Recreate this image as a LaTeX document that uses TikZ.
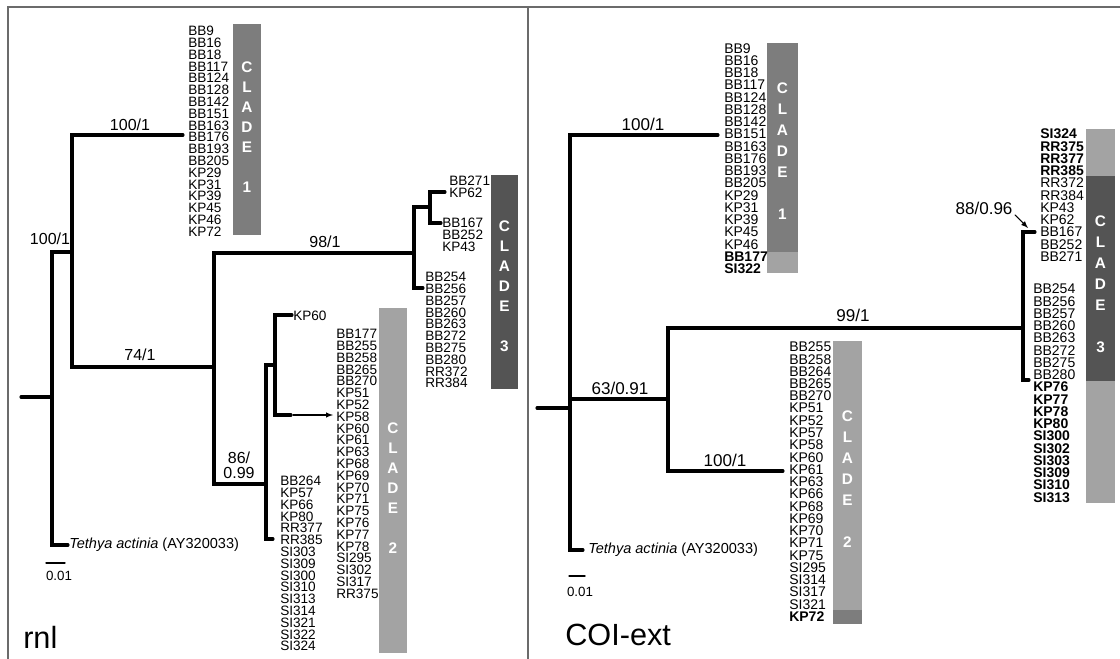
\documentclass[tikz,border=0pt]{standalone}
\usepackage{fontspec}
\setmainfont{Liberation Sans}
\usepackage{tkz-euclide}
\usetikzlibrary{arrows,calc}
\definecolor{FrameClr}{rgb}{0.42,0.42,0.42}
\definecolor{CladeOneClr}{rgb}{0.49,0.49,0.49}
\definecolor{CladeTwoClr}{rgb}{0.64,0.64,0.64}
\definecolor{CladeThreeClr}{rgb}{0.33,0.33,0.33}

\tikzset{
  taxon/.style={anchor=west,inner sep=0pt,font=\fontsize{10.2}{10}\selectfont},
  taxonR/.style={anchor=west,inner sep=0pt,font=\fontsize{10.5}{10}\selectfont},
  support/.style={inner sep=0pt,align=center,font=\fontsize{12}{11.5}\selectfont},
  supportR/.style={inner sep=0pt,font=\fontsize{12.8}{13}\selectfont},
  cladebar/.style={inner sep=0pt,text=white,align=center,font=\fontsize{11.5}{15}\selectfont\bfseries},
  cladebarR/.style={inner sep=0pt,text=white,align=center,font=\fontsize{11.5}{15.75}\selectfont\bfseries},
  outgroup/.style={anchor=west,inner sep=0pt,font=\fontsize{10.9}{11}\selectfont},
  scalelbl/.style={inner sep=0pt,font=\fontsize{10}{10}\selectfont},
  genename/.style={anchor=west,inner sep=0pt,font=\fontsize{23}{23}\selectfont}
}

\begin{document}
\begin{tikzpicture}[x=0.75pt,y=-0.75pt]
\useasboundingbox (0,0) rectangle (1120,659);
\tkzSetUpLine[line width=2.3pt,color=black]

% frame
\tkzDefPoints{8/659/F1,8/7/F2,1120/7/F3,528/7/M1,528/659/M2}
\tkzDrawPolySeg[line width=1.1pt,color=FrameClr](F1,F2,F3)
\tkzDrawSegment[line width=1.1pt,color=FrameClr](M1,M2)

% clade bars
\fill[CladeOneClr] (233,24) rectangle (261,235);
\fill[CladeThreeClr] (491,175) rectangle (518,389);
\fill[CladeTwoClr] (379,308) rectangle (407,653);

\fill[CladeOneClr] (767,43) rectangle (798,252);
\fill[CladeTwoClr] (767,252) rectangle (798,273);
\fill[CladeTwoClr] (833,341) rectangle (862,610);
\fill[CladeOneClr] (833,610) rectangle (862,624);
\fill[CladeTwoClr] (1086,129) rectangle (1115,176);
\fill[CladeThreeClr] (1086,176) rectangle (1115,381);
\fill[CladeTwoClr] (1086,381) rectangle (1115,503);

\node[cladebar] (cOneL) at (247,127) {C\\L\\A\\D\\E\\[15pt]1};
\node[cladebar] (cThreeL) at (504.5,286.5) {C\\L\\A\\D\\E\\[15pt]3};
\node[cladebar] (cTwoL) at (393,488.5) {C\\L\\A\\D\\E\\[15pt]2};
\node[cladebarR] (cOneR) at (782.5,151.5) {C\\L\\A\\D\\E\\[15.75pt]1};
\node[cladebarR] (cTwoR) at (847.5,479) {C\\L\\A\\D\\E\\[15.75pt]2};
\node[cladebarR] (cThreeR) at (1100.5,284) {C\\L\\A\\D\\E\\[15.75pt]3};

% rnl tree
\tkzDefPoints{21/397/L0,52/397/L1,52/252/La,72/252/La1,52/545/Lb,68/545/Lb1}
\tkzDefPoints{72/135/Lc,183/135/Lc1,72/367/Ld,214/367/Ld1}
\tkzDefPoints{214/253/Le,414/253/Le1,214/484/Lf,266/484/Lf1}
\tkzDefPoints{414/207/Lg,430/207/Lg1,414/288/Lh,423/288/Lh1}
\tkzDefPoints{430/192/Li,445/192/Li1,430/223/Lj,441/223/Lj1}
\tkzDefPoints{266/365/Lk,275/365/Lk1,266/539/Ll,273/539/Ll1}
\tkzDefPoints{275/315/Lm,292/315/Lm1,275/415/Ln,291/415/Ln1}
\tkzDefPoints{293/415/An0,333/415/An1,46/563/Ls0,65/563/Ls1}

\tkzDrawSegments(L0,L1)
\tkzDrawPolySeg(La1,La,Lb,Lb1)
\tkzDrawPolySeg(Lc1,Lc,Ld,Ld1)
\tkzDrawPolySeg(Le1,Le,Lf,Lf1)
\tkzDrawPolySeg(Lg1,Lg,Lh,Lh1)
\tkzDrawPolySeg(Li1,Li,Lj,Lj1)
\tkzDrawPolySeg(Lk1,Lk,Ll,Ll1)
\tkzDrawPolySeg(Lm1,Lm,Ln,Ln1)
\tkzDrawSegments[line width=0.8pt,-latex](An0,An1)
\tkzDrawSegments[line width=1pt](Ls0,Ls1)

\node[support] (bsLa) at (50,239) {100/1};
\node[support] (bsLc) at (130,125) {100/1};
\node[support] (bsLd) at (140,355) {74/1};
\node[support] (bsLe) at (325,242) {98/1};
\node[support] (bsLf) at (239,465) {86/\\0.99};

\foreach \nm [count=\i from 0] in {BB9,BB16,BB18,BB117,BB124,BB128,BB142,BB151,BB163,BB176,BB193,BB205,KP29,KP31,KP39,KP45,KP46,KP72}
  \node[taxon] (tLone\i) at (188,31+\i*11.8) {\nm};
\foreach \nm [count=\i from 0] in {BB271,KP62}
  \node[taxon] (tLthA\i) at (449,181+\i*11.8) {\nm};
\foreach \nm [count=\i from 0] in {BB167,BB252,KP43}
  \node[taxon] (tLthB\i) at (442,223+\i*11.8) {\nm};
\foreach \nm [count=\i from 0] in {BB254,BB256,BB257,BB260,BB263,BB272,BB275,BB280,RR372,RR384}
  \node[taxon] (tLthC\i) at (425,277+\i*11.8) {\nm};
\node[taxon] (tLkp) at (293,316) {KP60};
\foreach \nm [count=\i from 0] in {BB177,BB255,BB258,BB265,BB270,KP51,KP52,KP58,KP60,KP61,KP63,KP68,KP69,KP70,KP71,KP75,KP76,KP77,KP78,SI295,SI302,SI317,RR375}
  \node[taxon] (tLtwA\i) at (336,334+\i*11.8) {\nm};
\foreach \nm [count=\i from 0] in {BB264,KP57,KP66,KP80,RR377,RR385,SI303,SI309,SI300,SI310,SI313,SI314,SI321,SI322,SI324}
  \node[taxon] (tLtwB\i) at (280,481+\i*11.8) {\nm};

\node[outgroup] (tLout) at (69,545) {\textit{Tethya actinia} (AY320033)};
\node[scalelbl] (sL) at (59,576) {0.01};
\node[genename] (gL) at (23,637) {rnl};

% COI-ext tree
\tkzDefPoints{537/408/R0,570/408/R1,570/135/Ra,718/135/Ra1,570/550/Rb,583/550/Rb1}
\tkzDefPoints{570/399/Rc,668/399/Rc1}
\tkzDefPoints{668/328/Rd,1023/328/Rd1,668/471/Re,783/471/Re1}
\tkzDefPoints{1023/232/Rf,1035/232/Rf1,1023/380/Rg,1029/380/Rg1}
\tkzDefPoints{1015/215/Am0,1028/228/Am1,569/576/Rs0,585/576/Rs1}

\tkzDrawSegments(R0,R1 Rc,Rc1)
\tkzDrawPolySeg(Ra1,Ra,Rb,Rb1)
\tkzDrawPolySeg(Rd1,Rd,Re,Re1)
\tkzDrawPolySeg(Rf1,Rf,Rg,Rg1)
\tkzDrawSegments[line width=0.8pt,-latex](Am0,Am1)
\tkzDrawSegments[line width=1pt](Rs0,Rs1)

\node[supportR] (bsRa) at (643,124) {100/1};
\node[supportR] (bsRc) at (620,388) {63/0.91};
\node[supportR] (bsRd) at (853,315) {99/1};
\node[supportR] (bsRe) at (725,460) {100/1};
\node[supportR] (bsRf) at (984,208) {88/0.96};

\foreach \nm [count=\i from 0] in {BB9,BB16,BB18,BB117,BB124,BB128,BB142,BB151,BB163,BB176,BB193,BB205,KP29,KP31,KP39,KP45,KP46,{\textbf{BB177}},{\textbf{SI322}}}
  \node[taxonR] (tRone\i) at (724,48.3+\i*12.25) {\nm};
\foreach \nm [count=\i from 0] in {BB255,BB258,BB264,BB265,BB270,KP51,KP52,KP57,KP58,KP60,KP61,KP63,KP66,KP68,KP69,KP70,KP71,KP75,SI295,SI314,SI317,SI321,{\textbf{KP72}}}
  \node[taxonR] (tRtw\i) at (789,347+\i*12.25) {\nm};
\foreach \nm [count=\i from 0] in {{\textbf{SI324}},{\textbf{RR375}},{\textbf{RR377}},{\textbf{RR385}},RR372,RR384,KP43,KP62,BB167,BB252,BB271}
  \node[taxonR] (tRthA\i) at (1040,134+\i*12.25) {\nm};
\foreach \nm [count=\i from 0] in {BB254,BB256,BB257,BB260,BB263,BB272,BB275,BB280,{\textbf{KP76}},{\textbf{KP77}},{\textbf{KP78}},{\textbf{KP80}},{\textbf{SI300}},{\textbf{SI302}},{\textbf{SI303}},{\textbf{SI309}},{\textbf{SI310}},{\textbf{SI313}}}
  \node[taxonR] (tRthB\i) at (1033,289+\i*12.25) {\nm};

\node[outgroup] (tRout) at (588,550) {\textit{Tethya actinia} (AY320033)};
\node[scalelbl] (sR) at (580,592) {0.01};
\node[genename] (gR) at (565,635) {COI-ext};

\end{tikzpicture}
\end{document}
